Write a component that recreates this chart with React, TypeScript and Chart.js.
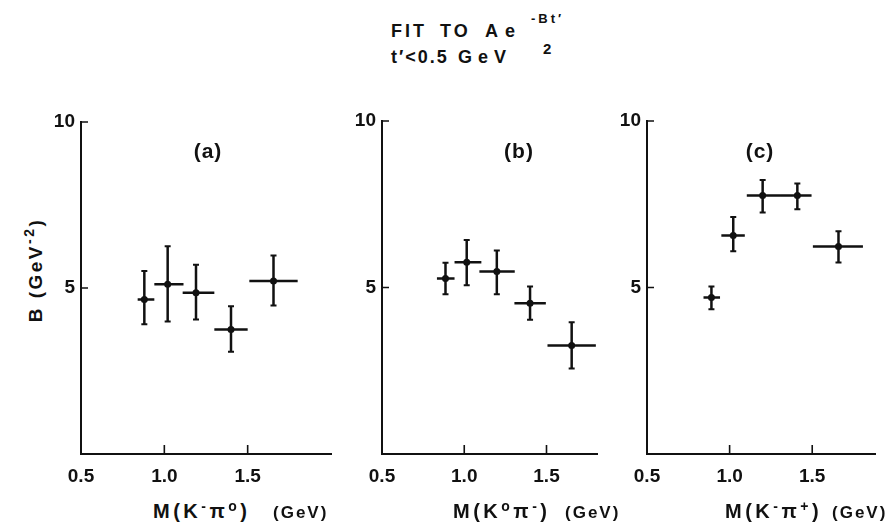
import React, { useEffect, useRef } from "react";
import { Chart, registerables } from "chart.js";

Chart.register(...registerables);

// ---- axis settings ----
const X_TICKS = [0.5, 1.0, 1.5];
const Y_TICKS = [5, 10];
const X_MIN = 0.5;
const Y_MIN = 0;
const Y_MAX = 10;
const A_X_MAX = 2.0;
const B_X_MAX = 1.807;
const C_X_MAX = 1.88;

// ---- panel (a): M(K- pi0) ----
const A_MASS = [0.88, 1.02, 1.19, 1.4, 1.655];
const A_MASS_LO = [0.84, 0.94, 1.11, 1.3, 1.51];
const A_MASS_HI = [0.94, 1.115, 1.3, 1.5, 1.8];
const A_B = [4.65, 5.11, 4.86, 3.75, 5.21];
const A_B_LO = [3.91, 3.99, 4.05, 3.08, 4.47];
const A_B_HI = [5.51, 6.26, 5.7, 4.45, 5.98];

// ---- panel (b): M(K0 pi-) ----
const B_MASS = [0.886, 1.015, 1.198, 1.4, 1.653];
const B_MASS_LO = [0.834, 0.941, 1.092, 1.305, 1.506];
const B_MASS_HI = [0.941, 1.104, 1.307, 1.496, 1.8];
const B_B = [5.27, 5.76, 5.48, 4.53, 3.26];
const B_B_LO = [4.8, 5.07, 4.8, 4.03, 2.57];
const B_B_HI = [5.74, 6.43, 6.11, 5.03, 3.96];

// ---- panel (c): M(K- pi+) ----
const C_MASS = [0.89, 1.022, 1.2, 1.41, 1.659];
const C_MASS_LO = [0.842, 0.95, 1.104, 1.311, 1.504];
const C_MASS_HI = [0.942, 1.092, 1.311, 1.496, 1.807];
const C_B = [4.7, 6.56, 7.76, 7.76, 6.23];
const C_B_LO = [4.35, 6.09, 7.25, 7.35, 5.75];
const C_B_HI = [5.03, 7.12, 8.23, 8.12, 6.69];

const FONT = "'Liberation Sans', Arial, Helvetica, sans-serif";
const INK = "#111";

const errorBarPlugin = {
  id: "errorBars",
  afterDatasetsDraw(chart: any) {
    const ctx = chart.ctx;
    const xs = chart.scales.x;
    const ys = chart.scales.y;
    chart.data.datasets.forEach((ds: any) => {
      ds.data.forEach((p: any, i: number) => {
        const px = xs.getPixelForValue(p.x);
        const py = ys.getPixelForValue(p.y);
        const xl = xs.getPixelForValue(ds.xLo[i]);
        const xh = xs.getPixelForValue(ds.xHi[i]);
        const yl = ys.getPixelForValue(ds.yLo[i]);
        const yh = ys.getPixelForValue(ds.yHi[i]);
        ctx.save();
        ctx.strokeStyle = INK;
        ctx.lineCap = "butt";
        ctx.lineWidth = 2.5;
        ctx.beginPath();
        ctx.moveTo(xl, py);
        ctx.lineTo(xh, py);
        ctx.moveTo(px, yl);
        ctx.lineTo(px, yh);
        ctx.stroke();
        ctx.lineWidth = 2;
        ctx.beginPath();
        ctx.moveTo(px - 3, yl);
        ctx.lineTo(px + 3, yl);
        ctx.moveTo(px - 3, yh);
        ctx.lineTo(px + 3, yh);
        ctx.stroke();
        ctx.restore();
      });
    });
  },
};

const innerTicksPlugin = {
  id: "innerTicks",
  afterDraw(chart: any) {
    const ctx = chart.ctx;
    const xs = chart.scales.x;
    const ys = chart.scales.y;
    const area = chart.chartArea;
    ctx.save();
    ctx.strokeStyle = INK;
    ctx.lineWidth = 1.6;
    ctx.beginPath();
    Y_TICKS.forEach((v) => {
      const y = ys.getPixelForValue(v);
      ctx.moveTo(area.left, y);
      ctx.lineTo(area.left + 7, y);
    });
    X_TICKS.forEach((v) => {
      if (v <= X_MIN) return;
      const x = xs.getPixelForValue(v);
      ctx.moveTo(x, area.bottom);
      ctx.lineTo(x, area.bottom - 9);
    });
    ctx.stroke();
    ctx.restore();
  },
};

type PanelProps = {
  left: number;
  top: number;
  width: number;
  height: number;
  yAxisWidth: number;
  padTop: number;
  padRight: number;
  xMax: number;
  mass: number[];
  massLo: number[];
  massHi: number[];
  b: number[];
  bLo: number[];
  bHi: number[];
};

function Panel(props: PanelProps) {
  const ref = useRef<HTMLCanvasElement>(null);
  useEffect(() => {
    const canvas = ref.current;
    if (!canvas) return;
    const tickFont = { family: FONT, size: 19, weight: "bold" as const };
    const chart = new Chart(canvas, {
      type: "scatter",
      data: {
        datasets: [
          {
            data: props.mass.map((m, i) => ({ x: m, y: props.b[i] })),
            xLo: props.massLo,
            xHi: props.massHi,
            yLo: props.bLo,
            yHi: props.bHi,
            pointRadius: 3.5,
            pointBackgroundColor: INK,
            pointBorderWidth: 0,
            showLine: false,
          } as any,
        ],
      },
      options: {
        responsive: false,
        animation: false,
        devicePixelRatio: 1,
        layout: { padding: { top: props.padTop, right: props.padRight, left: 0, bottom: 0 } },
        plugins: {
          legend: { display: false },
          tooltip: { enabled: false },
          title: { display: false },
        },
        scales: {
          x: {
            type: "linear",
            min: X_MIN,
            max: props.xMax,
            grid: { display: false, drawTicks: false },
            border: { display: true, color: INK, width: 2 },
            ticks: {
              padding: 11,
              font: tickFont,
              color: INK,
              autoSkip: false,
              maxRotation: 0,
              callback: (v: any) => Number(v).toFixed(1),
            },
            afterBuildTicks: (s: any) => {
              s.ticks = X_TICKS.map((v) => ({ value: v }));
            },
            afterFit: (s: any) => {
              s.height = 46;
            },
          },
          y: {
            type: "linear",
            min: Y_MIN,
            max: Y_MAX,
            grid: { display: false, drawTicks: false },
            border: { display: true, color: INK, width: 2 },
            ticks: {
              padding: 6,
              font: tickFont,
              color: INK,
              autoSkip: false,
              callback: (v: any) => String(v),
            },
            afterBuildTicks: (s: any) => {
              s.ticks = Y_TICKS.map((v) => ({ value: v }));
            },
            afterFit: (s: any) => {
              s.width = props.yAxisWidth;
            },
          },
        },
      },
      plugins: [errorBarPlugin, innerTicksPlugin],
    });
    return () => chart.destroy();
  }, []);
  return (
    <canvas
      ref={ref}
      width={props.width}
      height={props.height}
      style={{
        position: "absolute",
        left: props.left,
        top: props.top,
        width: props.width,
        height: props.height,
        display: "block",
      }}
    />
  );
}

const textBase: React.CSSProperties = {
  position: "absolute",
  fontFamily: FONT,
  fontWeight: "bold",
  color: INK,
  whiteSpace: "pre",
  lineHeight: 1,
};

// Text placed by its left edge and its baseline (Liberation Sans metrics, line-height 1)
function T({
  x,
  base,
  size,
  ls = 0,
  children,
}: {
  x: number;
  base: number;
  size: number;
  ls?: number;
  children: React.ReactNode;
}) {
  return (
    <div style={{ ...textBase, left: x, top: base - 0.8465 * size, fontSize: size, letterSpacing: ls }}>
      {children}
    </div>
  );
}

function Sup({ children, size, rise }: { children: React.ReactNode; size: number; rise: number }) {
  return <span style={{ fontSize: size, position: "relative", top: -rise }}>{children}</span>;
}

function XTitle({ x, tailX, a, b }: { x: number; tailX: number; a: string; b: string }) {
  return (
    <>
      <T x={x} base={518} size={20} ls={3.5}>
        {"M(K"}
        <Sup size={14} rise={7}>{a}</Sup>
        {"π"}
        <Sup size={14} rise={7}>{b}</Sup>
        {")"}
      </T>
      <T x={tailX} base={518} size={17} ls={2}>
        {"(GeV)"}
      </T>
    </>
  );
}

export default function App() {
  return (
    <div
      style={{
        position: "absolute",
        left: 0,
        top: 0,
        width: 895,
        height: 527,
        background: "#fff",
        overflow: "hidden",
      }}
    >
      {/* title line 1 */}
      <T x={391} base={37} size={18} ls={3}>{"FIT"}</T>
      <T x={440} base={37} size={18} ls={3}>{"TO"}</T>
      <T x={485} base={37} size={18} ls={7}>{"Ae"}</T>
      <T x={531} base={23} size={13} ls={3}>{"-Bt′"}</T>
      {/* title line 2 */}
      <T x={391} base={63} size={18} ls={2}>{"t′<0.5"}</T>
      <T x={458} base={63} size={18} ls={6}>{"GeV"}</T>
      <T x={543} base={54} size={15}>{"2"}</T>

      {/* y axis title */}
      <div
        style={{
          ...textBase,
          left: 35,
          top: 270,
          fontSize: 19,
          letterSpacing: 2.5,
          transform: "translate(-50%, -50%) rotate(-90deg)",
        }}
      >
        {"B (GeV"}
        <Sup size={14} rise={8}>{"-2"}</Sup>
        {")"}
      </div>

      <Panel
        left={40}
        top={100}
        width={300}
        height={400}
        yAxisWidth={41}
        padTop={22}
        padRight={9}
        xMax={A_X_MAX}
        mass={A_MASS}
        massLo={A_MASS_LO}
        massHi={A_MASS_HI}
        b={A_B}
        bLo={A_B_LO}
        bHi={A_B_HI}
      />
      <Panel
        left={340}
        top={100}
        width={270}
        height={400}
        yAxisWidth={42}
        padTop={21}
        padRight={13}
        xMax={B_X_MAX}
        mass={B_MASS}
        massLo={B_MASS_LO}
        massHi={B_MASS_HI}
        b={B_B}
        bLo={B_B_LO}
        bHi={B_B_HI}
      />
      <Panel
        left={610}
        top={100}
        width={285}
        height={400}
        yAxisWidth={37}
        padTop={21}
        padRight={20}
        xMax={C_X_MAX}
        mass={C_MASS}
        massLo={C_MASS_LO}
        massHi={C_MASS_HI}
        b={C_B}
        bLo={C_B_LO}
        bHi={C_B_HI}
      />

      {/* panel labels */}
      <div style={{ ...textBase, left: 208, top: 150, fontSize: 21, letterSpacing: 1, transform: "translate(-50%, -50%)" }}>(a)</div>
      <div style={{ ...textBase, left: 519, top: 150, fontSize: 21, letterSpacing: 1, transform: "translate(-50%, -50%)" }}>(b)</div>
      <div style={{ ...textBase, left: 760, top: 150, fontSize: 21, letterSpacing: 1, transform: "translate(-50%, -50%)" }}>(c)</div>

      {/* x axis titles */}
      <XTitle x={153} tailX={273} a="-" b="o" />
      <XTitle x={453} tailX={565} a="o" b="-" />
      <XTitle x={725} tailX={832} a="-" b="+" />
    </div>
  );
}
